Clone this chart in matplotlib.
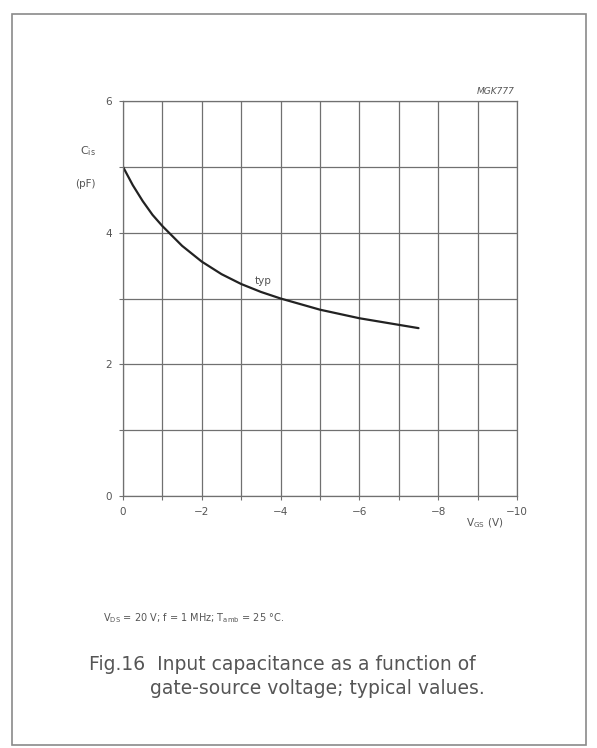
import matplotlib
matplotlib.use("Agg")
import matplotlib.pyplot as plt
from matplotlib.patches import Rectangle
from matplotlib.ticker import MultipleLocator

plt.rcParams['font.family'] = ['DejaVu Sans']

# Data
vgs = [0, -0.25, -0.5, -0.75, -1, -1.5, -2, -2.5, -3, -3.5, -4, -5, -6, -7, -7.5]
cis = [5.0, 4.72, 4.48, 4.27, 4.1, 3.8, 3.56, 3.37, 3.22, 3.1, 3.0, 2.83, 2.7, 2.6, 2.55]
xticks = [0, -2, -4, -6, -8, -10]
xticklabels = ['0', '\u22122', '\u22124', '\u22126', '\u22128', '\u221210']
yticks = [0, 2, 4, 6]
yticklabels = ['0', '2', '4', '6']

W, H = 597, 748
fig = plt.figure(figsize=(W / 100, H / 100), dpi=100)
fig.patch.set_facecolor('white')

def fx(px):
    return px / W

def fy(py):
    return 1 - py / H

# outer frame
fig.patches.append(Rectangle((fx(12), fy(745)), fx(586) - fx(12), fy(14) - fy(745),
                             transform=fig.transFigure, fill=False,
                             edgecolor='#8a8a8a', linewidth=1.2))

left, right, top, bottom = 123, 517, 101, 496
ax = fig.add_axes([fx(left), fy(bottom), fx(right) - fx(left), fy(top) - fy(bottom)])

grid_c = '#707070'
text_c = '#555555'

ax.set_xlim(0, -10)
ax.set_ylim(0, 6)
ax.set_xticks(xticks)
ax.set_xticklabels(xticklabels)
ax.set_yticks(yticks)
ax.set_yticklabels(yticklabels)
ax.xaxis.set_minor_locator(MultipleLocator(1))
ax.yaxis.set_minor_locator(MultipleLocator(1))
ax.grid(True, which='both', color=grid_c, linewidth=0.9)
ax.tick_params(which='both', direction='out', length=3, width=0.8, color=grid_c,
               labelsize=7.5, labelcolor=text_c, pad=5)
ax.tick_params(which='both', top=False, right=False)
for s in ax.spines.values():
    s.set_color(grid_c)
    s.set_linewidth(0.9)

ax.plot(vgs, cis, color='#222222', linewidth=1.6, solid_capstyle='round')
ax.text(-3.55, 3.27, 'typ', fontsize=7.5, color=text_c, ha='center', va='center')

fig.text(fx(88), fy(151), r'C$_{\rm is}$', fontsize=8, color=text_c, ha='center', va='center')
fig.text(fx(85), fy(184), '(pF)', fontsize=7.5, color=text_c, ha='center', va='center')
fig.text(fx(485), fy(523), r'V$_{\rm GS}$ (V)', fontsize=7.5, color=text_c, ha='center', va='center')
fig.text(fx(496), fy(91), 'MGK777', fontsize=6.5, color=text_c, ha='center', va='center',
         style='italic')

fig.text(fx(103), fy(618), r'V$_{\rm DS}$ = 20 V; f = 1 MHz; T$_{\rm amb}$ = 25 $\degree$C.',
         fontsize=7, color=text_c, ha='left', va='center')
fig.text(fx(89), fy(665), 'Fig.16  Input capacitance as a function of', fontsize=13.5,
         color=text_c, ha='left', va='center')
fig.text(fx(150), fy(689), 'gate-source voltage; typical values.', fontsize=13.5,
         color=text_c, ha='left', va='center')

fig.savefig('out.png', dpi=100)
